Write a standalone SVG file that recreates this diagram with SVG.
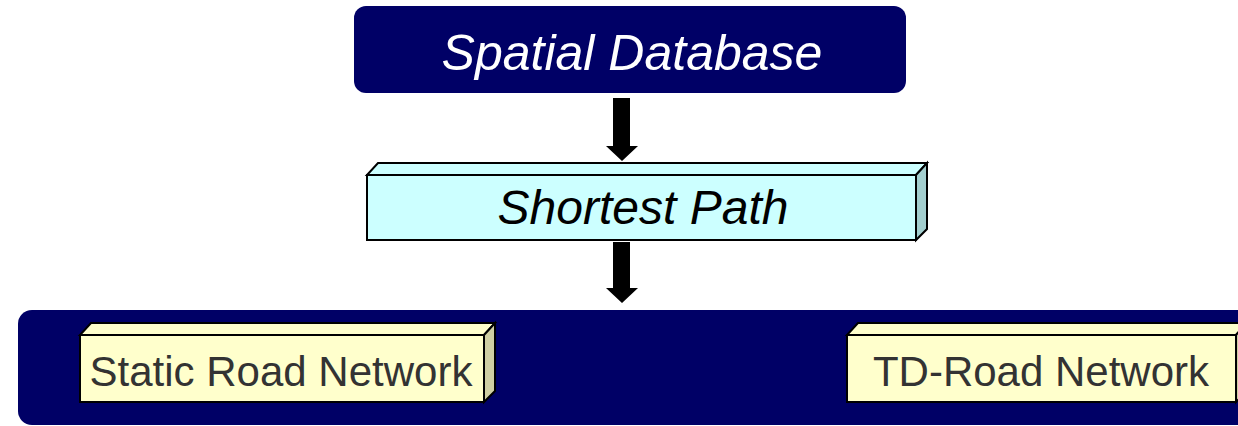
<svg xmlns="http://www.w3.org/2000/svg" width="1238" height="426" viewBox="0 0 1238 426">
  <style>
    .navy { fill: #000066; }
    .edge { stroke: #000000; stroke-width: 2; stroke-linejoin: miter; }
    .cyan-front { fill: #CCFFFF; }
    .cyan-side { fill: #A3CFCF; }
    .cream-front { fill: #FFFFCC; }
    .cream-side { fill: #CFCFA3; }
    .title { font-family: "Liberation Sans", Arial, sans-serif; font-style: italic; text-anchor: middle; }
    .label { font-family: "Liberation Sans", Arial, sans-serif; fill: #333333; text-anchor: middle; font-size: 42px; }
    .arrow { fill: #000000; }
  </style>

  <!-- top source block -->
  <g id="spatial-database">
    <rect class="navy" x="354" y="6" width="552" height="87" rx="12" ry="12"/>
    <text class="title" x="632" y="70" font-size="50" fill="#FFFFFF">Spatial Database</text>
  </g>

  <!-- middle 3D block -->
  <g id="shortest-path">
    <polygon class="cyan-front edge" points="367,175 378,163 927,163 916,175"/>
    <polygon class="cyan-side edge" points="916,175 927,163 927,229 916,240"/>
    <rect class="cyan-front edge" x="367" y="175" width="549" height="65"/>
    <text class="title" x="643" y="224" font-size="48" fill="#000000">Shortest Path</text>
  </g>

  <!-- bottom container band -->
  <g id="road-networks">
    <rect class="navy" x="18" y="310" width="1240" height="115" rx="14" ry="14"/>
  </g>

  <g id="static-road-network">
    <polygon class="cream-front edge" points="80,335 91,323 495,323 484,335"/>
    <polygon class="cream-side edge" points="484,335 495,323 495,391 484,402"/>
    <rect class="cream-front edge" x="80" y="335" width="404" height="67"/>
    <text class="label" x="281" y="386">Static Road Network</text>
  </g>

  <g id="td-road-network">
    <polygon class="cream-front edge" points="847,335 858,323 1247,323 1236,335"/>
    <polygon class="cream-side edge" points="1236,335 1247,323 1247,391 1236,402"/>
    <rect class="cream-front edge" x="847" y="335" width="389" height="67"/>
    <text class="label" x="1041" y="386">TD-Road Network</text>
  </g>

  <!-- block arrows between stages -->
  <g id="connectors">
    <polygon class="arrow" points="613,98 630,98 630,146 638,146 622,161 606,146 613,146"/>
    <polygon class="arrow" points="613,242 630,242 630,288 638,288 622,303 606,288 613,288"/>
  </g>
</svg>
